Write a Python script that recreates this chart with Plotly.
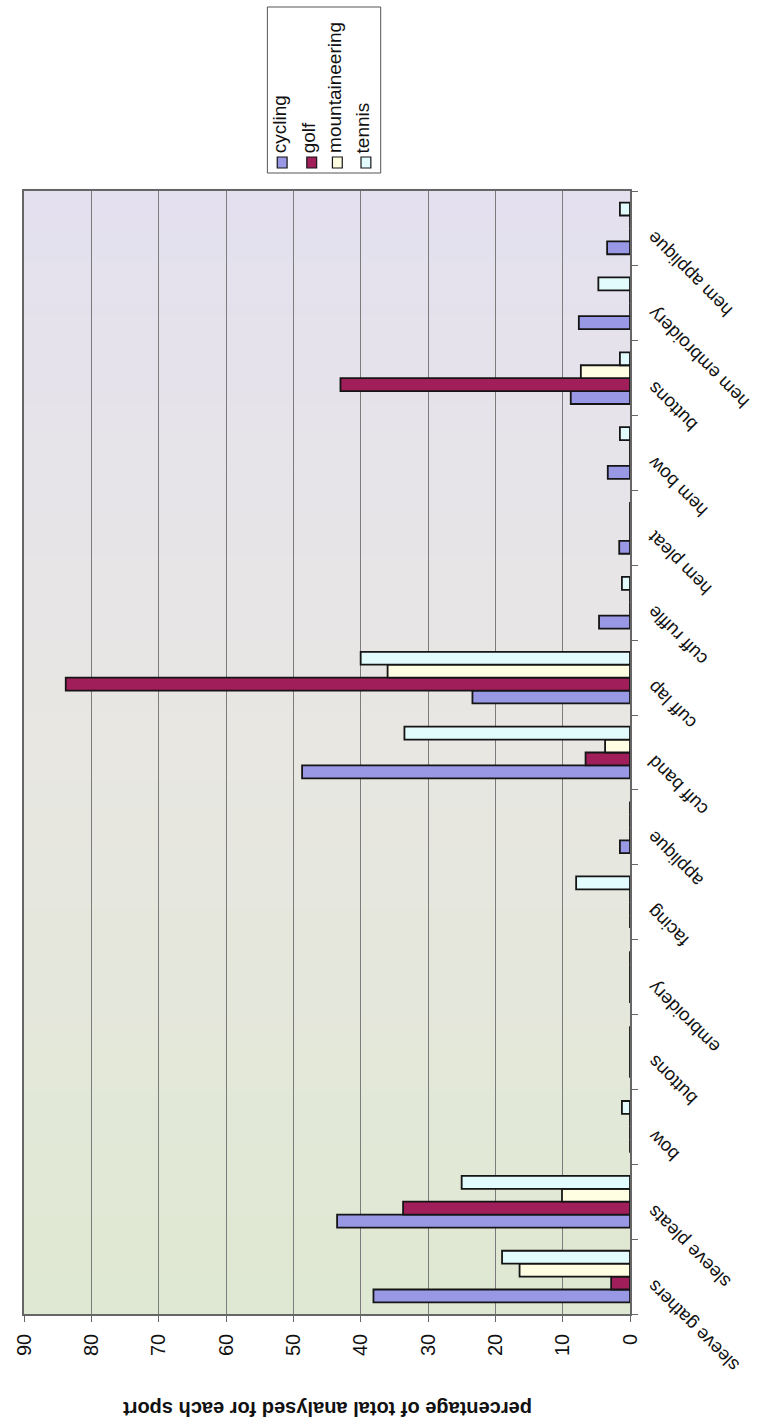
import plotly.graph_objects as go

# ---------------- data ----------------
categories = ["sleeve gathers", "sleeve pleats", "bow", "buttons", "embroidery",
              "facing", "applique", "cuff band", "cuff lap", "cuff ruffle",
              "hem pleat", "hem bow", "buttons", "hem embroidery", "hem applique"]
cycling = [38.1, 43.5, 0, 0, 0, 0, 1.5, 48.7, 23.4, 4.6, 1.6, 3.3, 8.8, 7.6, 3.4]
golf = [2.8, 33.7, 0, 0, 0, 0, 0, 6.6, 83.8, 0, 0, 0, 43.0, 0, 0]
mountaineering = [16.4, 10.1, 0, 0, 0, 0, 0, 3.7, 36.0, 0, 0, 0, 7.3, 0, 0]
tennis = [19.0, 25.0, 1.2, 0, 0, 8.0, 0, 33.5, 40.0, 1.2, 0, 1.5, 1.5, 4.7, 1.5]
series_names = ["cycling", "golf", "mountaineering", "tennis"]
value_ticks = [0, 10, 20, 30, 40, 50, 60, 70, 80, 90]
axis_title = "percentage of total analysed for each sport"

# ---------------- styling ----------------
colors = ["#9898e4", "#a01e5a", "#fffde2", "#e2fbfc"]
FONT = "Arial, Liberation Sans, sans-serif"
WIDTH, HEIGHT = 758, 1426
L, R, T, B = 15, 128, 191, 112
PW, PH = WIDTH - L - R, HEIGHT - T - B


def px_x(px):
    return (px - L) / PW


def px_y(py):
    return (HEIGHT - B - py) / PH


positions = list(range(len(categories)))
series = [cycling, golf, mountaineering, tennis]

fig = go.Figure()
for name, vals, col in zip(series_names, series, colors):
    fig.add_trace(go.Bar(
        y=positions, x=vals, name=name, orientation="h",
        marker=dict(color=col, line=dict(color="#151515", width=1.8)),
        showlegend=False,
    ))

shapes = []
# background gradient (lavender top -> grey middle -> green bottom)
top = (228, 224, 239)
mid = (232, 231, 226)
bot = (223, 232, 210)
N = 80
for k in range(N):
    t = k / (N - 1)
    if t < 0.5:
        a, b2, u = bot, mid, t / 0.5
    else:
        a, b2, u = mid, top, (t - 0.5) / 0.5
    c = tuple(round(a[j] + (b2[j] - a[j]) * u) for j in range(3))
    shapes.append(dict(type="rect", xref="paper", yref="paper",
                       x0=0, x1=1, y0=k / N, y1=(k + 1) / N + 0.002,
                       fillcolor="rgb(%d,%d,%d)" % c, line=dict(width=0),
                       layer="below"))

# legend box
shapes.append(dict(type="rect", xref="paper", yref="paper",
                   x0=px_x(262), x1=px_x(377), y0=px_y(173), y1=px_y(7),
                   fillcolor="white", line=dict(color="#555", width=1)))
legend_x = [277, 307, 333, 362]
annotations = []
for name, col, lx in zip(series_names, colors, legend_x):
    shapes.append(dict(type="rect", xref="paper", yref="paper",
                       x0=px_x(lx - 5), x1=px_x(lx + 5),
                       y0=px_y(168), y1=px_y(157),
                       fillcolor=col, line=dict(color="#151515", width=1.2)))
    annotations.append(dict(text=name, xref="paper", yref="paper",
                            x=px_x(lx - 3), y=px_y(155), xanchor="center",
                            yanchor="bottom", textangle=-90, showarrow=False,
                            font=dict(family=FONT, size=19, color="#111")))

# category labels
for pos, name in zip(positions, categories):
    annotations.append(dict(text=name, xref="paper", yref="y",
                            x=1, y=pos, xanchor="left", yanchor="top",
                            xshift=12, yshift=2, textangle=-135,
                            showarrow=False, borderpad=0,
                            font=dict(family=FONT, size=18.5, color="#111")))

# axis title
annotations.append(dict(text="<b>" + axis_title + "</b>", xref="paper",
                        yref="paper", x=px_x(323), y=px_y(1409),
                        xanchor="center", yanchor="middle", textangle=180,
                        showarrow=False,
                        font=dict(family=FONT, size=20, color="#111")))

fig.update_layout(
    width=WIDTH, height=HEIGHT,
    margin=dict(l=L, r=R, t=T, b=B),
    paper_bgcolor="white", plot_bgcolor="rgba(0,0,0,0)",
    barmode="group", bargap=0.31, bargroupgap=0,
    shapes=shapes, annotations=annotations,
    showlegend=False,
    font=dict(family=FONT, size=20, color="#111"),
)
fig.update_xaxes(
    range=[90, 0], tickvals=value_ticks, tickangle=-90,
    ticks="outside", ticklen=6, tickcolor="#666",
    ticklabelstandoff=4,
    showgrid=True, gridcolor="#7c7c7c", gridwidth=1,
    zeroline=False, showline=True, linecolor="#666", linewidth=1.5,
    mirror=True, tickfont=dict(family=FONT, size=20, color="#111"),
)
fig.update_yaxes(
    range=[-0.5, len(categories) - 0.5],
    tickvals=[p - 0.5 for p in positions] + [len(categories) - 0.5],
    showticklabels=False, ticks="outside", ticklen=6, tickcolor="#666",
    side="right", showgrid=False, zeroline=False,
    showline=True, linecolor="#666", linewidth=1.5, mirror=True,
)

fig.write_html("out.html")
